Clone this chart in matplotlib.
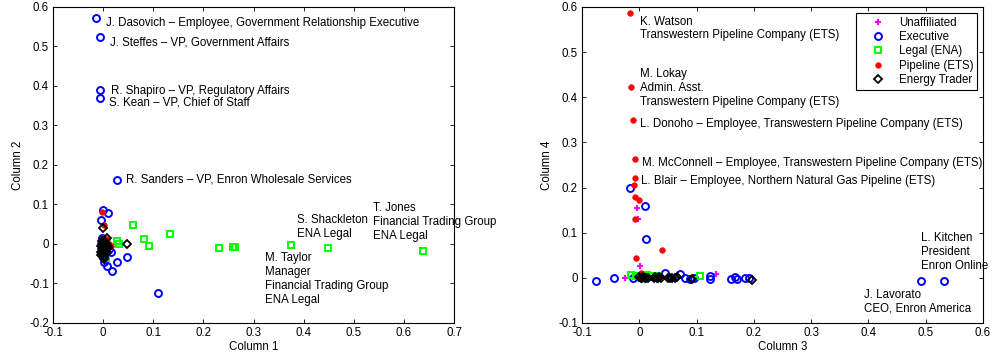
import matplotlib
matplotlib.use("Agg")
import matplotlib.pyplot as plt

plt.rcParams['font.family'] = ['Liberation Sans', 'DejaVu Sans']
plt.rcParams['font.size'] = 8.3

# ---- left panel (Column 1 vs Column 2) ----
L_unaff_x = [0.002, 0.006, -0.002]
L_unaff_y = [0.01, -0.005, -0.02]
L_exec_x = [-0.0136, -0.006, -0.007, -0.007, 0.028, 0.110, -0.001, 0.009, -0.004,
            0.027, 0.047, 0.018, 0.007, 0.002, -0.003, 0.012, 0.004, -0.005, 0.015]
L_exec_y = [0.571, 0.525, 0.390, 0.369, 0.161, -0.123, 0.086, 0.079, 0.061,
            -0.045, -0.032, -0.068, -0.057, -0.045, 0.015, -0.012, -0.03, 0.0, -0.02]
L_legal_x = [0.028, 0.031, 0.060, 0.082, 0.092, 0.133, 0.232, 0.259, 0.263, 0.375, 0.448, 0.638, 0.006]
L_legal_y = [0.0076, -0.001, 0.047, 0.012, -0.004, 0.026, -0.009, -0.007, -0.007, -0.003, -0.009, -0.018, -0.035]
L_pipe_x = [-0.002, 0.001, -0.001, 0.012, 0.008, 0.015, 0.004]
L_pipe_y = [0.081, 0.048, 0.016, 0.0, 0.012, -0.005, -0.015]
L_trader_x = [0.0004, 0.008, 0.047, 0.002, -0.004, -0.002, 0.0, 0.002, 0.004, 0.006, 0.008,
              -0.003, 0.001, 0.005, 0.003, -0.001, 0.007, 0.002, 0.004, 0.0,
              -0.005, 0.009, 0.006, -0.002, 0.003, 0.010, -0.004, 0.001]
L_trader_y = [0.040, 0.014, -0.001, -0.039, -0.005, -0.012, -0.018, -0.008, -0.002, -0.014, -0.022,
              -0.025, -0.028, -0.006, 0.004, 0.006, -0.003, -0.032, -0.016, 0.0,
              -0.02, -0.01, 0.002, 0.008, -0.02, -0.004, -0.028, -0.012]

L_labels = ["J. Dasovich \u2013 Employee, Government Relationship Executive",
            "J. Steffes \u2013 VP, Government Affairs",
            "R. Shapiro \u2013 VP, Regulatory Affairs",
            "S. Kean \u2013 VP, Chief of Staff",
            "R. Sanders \u2013 VP, Enron Wholesale Services",
            "S. Shackleton\nENA Legal",
            "T. Jones\nFinancial Trading Group\nENA Legal",
            "M. Taylor\nManager\nFinancial Trading Group\nENA Legal"]
L_label_x = [0.006, 0.014, 0.015, 0.012, 0.046, 0.387, 0.539, 0.323]
L_label_y = [0.559, 0.511, 0.388, 0.358, 0.162, 0.043, 0.055, -0.0885]

# ---- right panel (Column 3 vs Column 4) ----
R_unaff_x = [-0.004, -0.003, 0.0005, -0.0245, 0.134]
R_unaff_y = [0.154, 0.131, 0.027, 0.0, 0.0085]
R_exec_x = [-0.017, 0.0104, 0.011, -0.0756, -0.0448, 0.0446, 0.0708, 0.123, 0.123, 0.160, 0.167,
            0.185, 0.191, 0.4914, 0.531, -0.011, 0.08, 0.095, 0.088, 0.02, 0.17, 0.004]
R_exec_y = [0.198, 0.158, 0.086, -0.0066, 0.0, 0.010, 0.0087, 0.004, -0.003, -0.003, 0.001,
            0.0, 0.0, -0.0074, -0.0066, -0.001, -0.001, -0.001, -0.002, 0.003, -0.002, 0.006]
R_legal_x = [-0.0146, 0.0133, 0.105, 0.005, 0.03, -0.005, 0.02]
R_legal_y = [0.007, 0.007, 0.003, 0.002, 0.004, 0.005, 0.003]
R_pipe_x = [-0.0163, -0.0146, -0.0117, -0.0071, -0.0082, -0.0088, -0.0076, -0.001, -0.007, 0.0388, -0.0053, 0.002]
R_pipe_y = [0.586, 0.422, 0.350, 0.264, 0.220, 0.205, 0.180, 0.173, 0.130, 0.062, 0.0435, 0.01]
R_trader_x = [0.0, 0.003, 0.005, 0.007, 0.010, 0.012, 0.015, 0.025, 0.028, 0.030, 0.033,
              0.035, 0.038, 0.050, 0.053, 0.057, 0.062, 0.066, 0.092, 0.196]
R_trader_y = [0.001, 0.0, -0.001, 0.001, 0.0, -0.001, 0.0, 0.0, 0.001, -0.001, 0.0,
              0.001, -0.001, 0.0, -0.001, 0.0, -0.001, 0.001, -0.002, -0.004]

R_labels = ["K. Watson\nTranswestern Pipeline Company (ETS)",
            "M. Lokay\nAdmin. Asst.\nTranswestern Pipeline Company (ETS)",
            "L. Donoho \u2013 Employee, Transwestern Pipeline Company (ETS)",
            "M. McConnell \u2013 Employee, Transwestern Pipeline Company (ETS)",
            "L. Blair \u2013 Employee, Northern Natural Gas Pipeline (ETS)",
            "L. Kitchen\nPresident\nEnron Online",
            "J. Lavorato\nCEO, Enron America"]
R_label_x = [0.0005, 0.0005, 0.0017, 0.005, 0.0028, 0.4925, 0.392]
R_label_y = [0.552, 0.421, 0.341, 0.255, 0.215, 0.057, -0.0525]

groups = ["Unaffiliated", "Executive", "Legal (ENA)", "Pipeline (ETS)", "Energy Trader"]
styles = [dict(marker='+', color='#ff00ff', ms=5, mew=1.5),
          dict(marker='o', color='#0000ff', mfc='none', ms=5, mew=1.4),
          dict(marker='s', color='#00ff00', mfc='none', ms=4.2, mew=1.4),
          dict(marker='o', color='#ff0000', mfc='#ff0000', ms=4, mew=0.5),
          dict(marker='D', color='black', mfc='none', ms=4.5, mew=1.3)]


def style_ax(ax, xlim, ylim, xt, yt, xlabel, ylabel):
    ax.set_xlim(xlim)
    ax.set_ylim(ylim)
    ax.set_xticks(xt)
    ax.set_yticks(yt)
    ax.set_xticklabels(["%g" % v if v != 0 else "0" for v in xt])
    ax.set_yticklabels(["%g" % v if v != 0 else "0" for v in yt])
    ax.tick_params(direction='in', top=True, right=True, length=3, width=0.6, pad=3)
    for s in ax.spines.values():
        s.set_linewidth(0.8)
    ax.set_xlabel(xlabel, labelpad=1)
    ax.set_ylabel(ylabel, labelpad=4)


fig = plt.figure(figsize=(9.95, 3.6), dpi=100)

ax1 = fig.add_axes([0.0533, 0.1028, 0.403, 0.878])
left_data = [(L_unaff_x, L_unaff_y), (L_exec_x, L_exec_y), (L_legal_x, L_legal_y),
             (L_pipe_x, L_pipe_y), (L_trader_x, L_trader_y)]
for (xs, ys), st in zip(left_data, styles):
    ax1.plot(xs, ys, ls='none', **st)
for t, x, y in zip(L_labels, L_label_x, L_label_y):
    ax1.text(x, y, t, va='center', ha='left', linespacing=1.2)
style_ax(ax1, (-0.1, 0.7), (-0.2, 0.6), [-0.1, 0, 0.1, 0.2, 0.3, 0.4, 0.5, 0.6, 0.7],
         [-0.2, -0.1, 0, 0.1, 0.2, 0.3, 0.4, 0.5, 0.6], "Column 1", "Column 2")

ax2 = fig.add_axes([0.585, 0.1028, 0.403, 0.878])
right_data = [(R_unaff_x, R_unaff_y), (R_exec_x, R_exec_y), (R_legal_x, R_legal_y),
              (R_pipe_x, R_pipe_y), (R_trader_x, R_trader_y)]
for (xs, ys), st, g in zip(right_data, styles, groups):
    ax2.plot(xs, ys, ls='none', label=g, **st)
for t, x, y in zip(R_labels, R_label_x, R_label_y):
    ax2.text(x, y, t, va='center', ha='left', linespacing=1.2)
style_ax(ax2, (-0.1, 0.6), (-0.1, 0.6), [-0.1, 0, 0.1, 0.2, 0.3, 0.4, 0.5, 0.6],
         [-0.1, 0, 0.1, 0.2, 0.3, 0.4, 0.5, 0.6], "Column 3", "Column 4")
leg = ax2.legend(loc='upper right', fancybox=False, edgecolor='black', framealpha=1,
                 handlelength=3.2, handletextpad=0.2, labelspacing=0.2, borderpad=0.35,
                 borderaxespad=0.5, numpoints=1)
leg.get_frame().set_linewidth(0.8)

fig.savefig("out.png", dpi=100)
